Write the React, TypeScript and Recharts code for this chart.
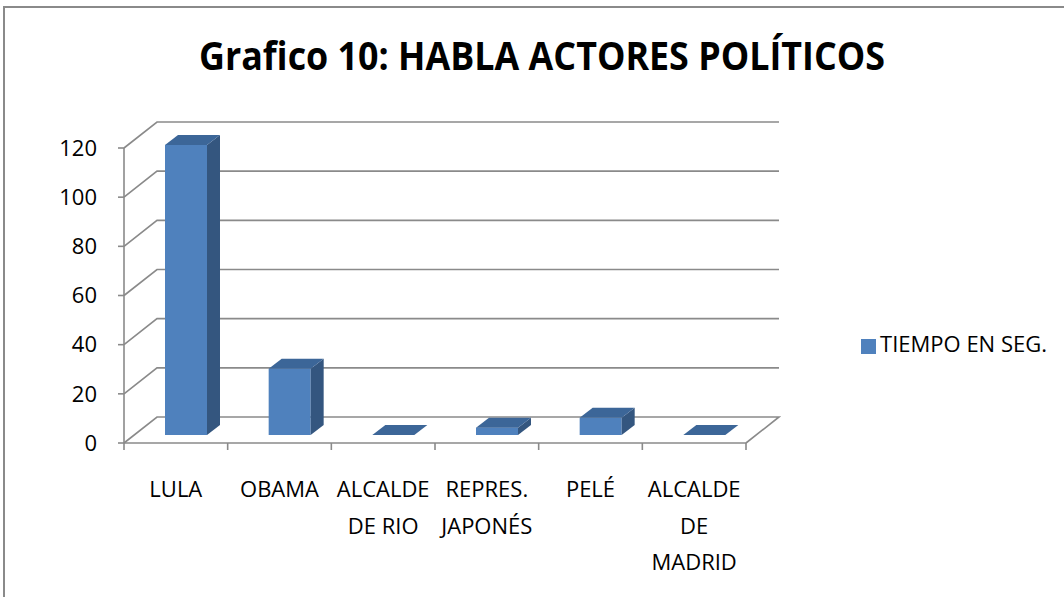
import React from "react";
import {
  Bar,
  BarChart,
  CartesianGrid,
  Customized,
  Legend,
  XAxis,
  YAxis,
} from "recharts";

const categories = [
  "LULA",
  "OBAMA",
  "ALCALDE DE RIO",
  "REPRES. JAPONÉS",
  "PELÉ",
  "ALCALDE DE MADRID",
];
const categoryLines = [
  ["LULA"],
  ["OBAMA"],
  ["ALCALDE", "DE RIO"],
  ["REPRES.", "JAPONÉS"],
  ["PELÉ"],
  ["ALCALDE", "DE", "MADRID"],
];
const tiempo = [118, 27, 0, 3, 7, 0];
const yTicks = [0, 20, 40, 60, 80, 100, 120];

const chartData = categories.map((name, i) => ({ name, tiempo: tiempo[i] }));

const FONT = "'Open Sans', sans-serif";
const GRID = "#8a8a8a";
const DEPTH_X = 33;
const DEPTH_Y = -26;
const PLOT_LEFT = 124;
const PLOT_RIGHT = 746;
const PLOT_BOTTOM = 443;
const BAND = (PLOT_RIGHT - PLOT_LEFT) / categories.length;

function GridLine(props: any) {
  const { x1, y1, x2 } = props;
  let d = `M${x1},${y1} L${x1 + DEPTH_X},${y1 + DEPTH_Y} L${x2 + DEPTH_X},${y1 + DEPTH_Y}`;
  if (Math.abs(y1 - PLOT_BOTTOM) < 1) d += ` L${x2},${y1}`;
  return <path key={props.key} d={d} fill="none" stroke={GRID} strokeWidth={1.6} />;
}

function Bar3D(props: any) {
  const { x, y, width, height } = props;
  const bx = x + 10;
  const by = y - 8;
  const h = Math.max(height, 0);
  const dx = 13;
  const dy = -10;
  return (
    <g>
      <rect x={bx} y={by} width={width} height={h} fill="#4f81bd" />
      <polygon
        points={`${bx + width},${by} ${bx + width + dx},${by + dy} ${bx + width + dx},${by + h + dy} ${bx + width},${by + h}`}
        fill="#34567f"
      />
      <polygon
        points={`${bx},${by} ${bx + dx},${by + dy} ${bx + width + dx},${by + dy} ${bx + width},${by}`}
        fill="#3c6698"
      />
    </g>
  );
}

function CategoryTick(props: any) {
  const { x, index } = props;
  const lines = categoryLines[index] ?? [];
  const left = x - BAND / 2;
  return (
    <g>
      <line x1={left} y1={PLOT_BOTTOM} x2={left} y2={PLOT_BOTTOM + 7} stroke={GRID} strokeWidth={1.6} />
      {index === categories.length - 1 && (
        <line x1={x + BAND / 2} y1={PLOT_BOTTOM} x2={x + BAND / 2} y2={PLOT_BOTTOM + 7} stroke={GRID} strokeWidth={1.6} />
      )}
      <text x={x} textAnchor="middle" fontFamily={FONT} fontSize={22} fill="#000">
        {lines.map((line, i) => (
          <tspan key={i} x={x} y={PLOT_BOTTOM + 54 + i * 36.5}>
            {line}
          </tspan>
        ))}
      </text>
    </g>
  );
}

function Frame() {
  return (
    <g>
      <rect x={4} y={7} width={1200} height={800} fill="none" stroke={GRID} strokeWidth={2} />
      <text
        x={542}
        y={70}
        textAnchor="middle"
        fontFamily={FONT}
        fontWeight="bold"
        fontSize={40}
        textLength={686}
        lengthAdjust="spacingAndGlyphs"
        fill="#000"
      >
        Grafico 10: HABLA ACTORES POLÍTICOS
      </text>
    </g>
  );
}

export default function App() {
  return (
    <div style={{ position: "absolute", left: 0, top: 0, background: "#fff" }}>
      <BarChart
        width={1064}
        height={597}
        data={chartData}
        margin={{ left: 64, right: 318, top: 148, bottom: 24 }}
      >
        <Customized component={<Frame />} />
        <CartesianGrid vertical={false} horizontal={(p: any) => <GridLine {...p} />} />
        <XAxis
          dataKey="name"
          height={130}
          axisLine={{ stroke: GRID, strokeWidth: 1.6 }}
          tickLine={false}
          interval={0}
          tick={<CategoryTick />}
        />
        <YAxis
          width={60}
          domain={[0, 120]}
          ticks={yTicks}
          interval={0}
          axisLine={{ stroke: GRID, strokeWidth: 1.6 }}
          tickLine={{ stroke: GRID, strokeWidth: 1.6 }}
          tickSize={6}
          tickMargin={21}
          tick={{ fill: "#000", fontSize: 22, fontFamily: FONT }}
        />
        <Legend
          layout="horizontal"
          verticalAlign="middle"
          align="center"
          iconType="square"
          iconSize={15}
          wrapperStyle={{ left: 849, top: 328, width: 220, fontFamily: FONT, fontSize: 22, textAlign: "left" }}
          formatter={(value) => <span style={{ color: "#000" }}>{value}</span>}
        />
        <Bar
          dataKey="tiempo"
          name="TIEMPO EN SEG."
          fill="#4f81bd"
          barSize={42}
          shape={<Bar3D />}
          legendType="square"
          isAnimationActive={false}
        />
      </BarChart>
    </div>
  );
}
